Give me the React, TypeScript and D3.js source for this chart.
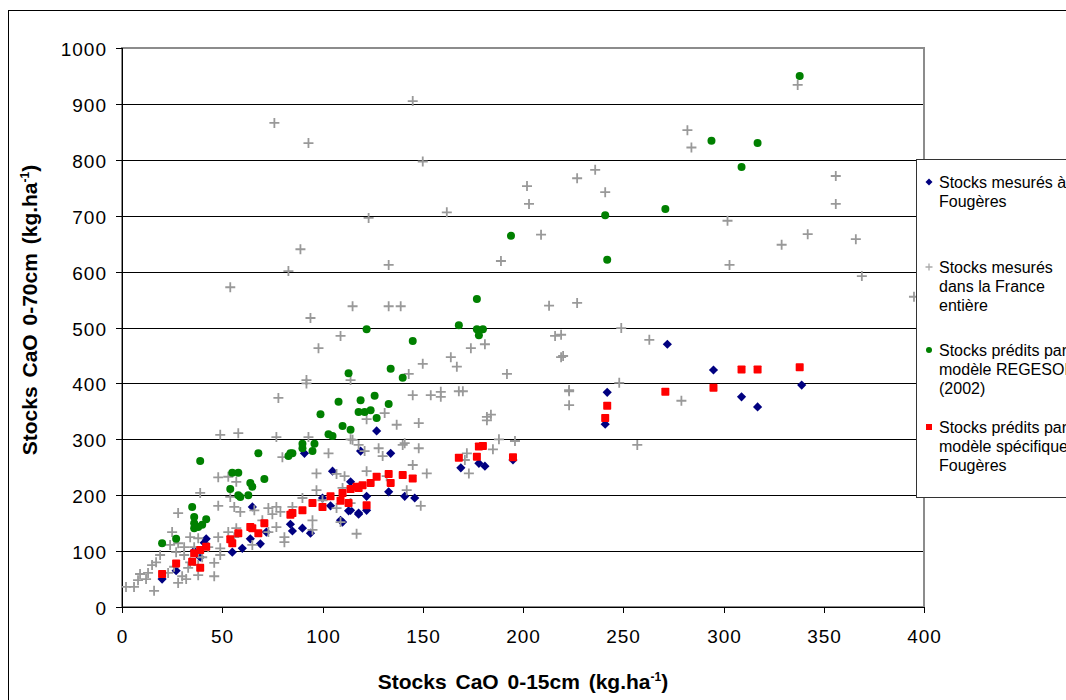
import React, { useEffect, useRef } from 'react';
import * as d3 from 'd3';

type Pt = [number, number];

// Stocks mesurés à Fougères
const fougeresMesures: Pt[] = [
  [20, 50], [27, 65], [36, 100], [39, 89], [41, 115], [42, 122], [55, 98], [60, 105], [64, 122], [65, 179],
  [69, 113], [72, 134], [84, 148], [85, 136], [90, 141], [91, 275], [94, 132], [100, 195], [104, 181],
  [105, 243], [109, 155], [110, 152], [113, 172], [114, 224], [114, 173], [118, 168], [118, 166], [119, 279],
  [122, 198], [122, 173], [127, 315], [133, 206], [134, 275], [141, 198], [146, 195], [169, 249], [178, 257],
  [181, 252], [195, 263], [241, 327], [242, 384], [272, 470], [295, 424], [309, 376], [317, 358], [339, 397],
];

// Stocks mesurés dans la France entière
const franceMesures: Pt[] = [
  [76, 866], [93, 830], [145, 905], [150, 797], [123, 696], [89, 640], [83, 601], [54, 572], [133, 612],
  [115, 538], [133, 538], [139, 538], [94, 517], [109, 485], [98, 463], [92, 406], [92, 400], [78, 374],
  [114, 406], [162, 706], [202, 753], [203, 721], [209, 666], [189, 619], [213, 539], [216, 485], [219, 447],
  [150, 435], [143, 417], [164, 447], [167, 430], [174, 463], [181, 470], [192, 417], [145, 379], [154, 379],
  [159, 385], [159, 376], [168, 386], [170, 386], [223, 386], [223, 361], [131, 347], [122, 336], [137, 326],
  [148, 329], [182, 340], [184, 344], [182, 334], [188, 300], [196, 297], [185, 282], [172, 275], [171, 263],
  [173, 239], [152, 239], [145, 254], [142, 209], [149, 181], [117, 131], [140, 290], [141, 293], [148, 284],
  [128, 284], [130, 270], [121, 279], [118, 290], [115, 299], [122, 243], [132, 234], [114, 186],
  [227, 767], [236, 782], [241, 742], [282, 853], [284, 822], [337, 934], [356, 771], [356, 721], [302, 691],
  [342, 667], [329, 648], [366, 658], [303, 612], [369, 592], [395, 555], [227, 544], [249, 499], [263, 478],
  [220, 449], [219, 487], [248, 401], [223, 388], [279, 369], [257, 290],
  [49, 308], [58, 311], [77, 304], [93, 304], [114, 300], [80, 268], [103, 275], [97, 239], [107, 238],
  [39, 204], [48, 232], [53, 233], [57, 224], [48, 181], [54, 197], [56, 179], [59, 170], [66, 173], [73, 177],
  [77, 179], [75, 166], [79, 170], [85, 179], [90, 195], [97, 209], [111, 234], [109, 152], [28, 168],
  [25, 134], [24, 111], [28, 114], [34, 125], [31, 107], [38, 123], [19, 93], [17, 80], [15, 75], [13, 61],
  [9, 59], [8, 48], [2, 36], [6, 36], [16, 29], [12, 50], [23, 61], [28, 43], [32, 50], [30, 55], [26, 72],
  [33, 70], [38, 57], [46, 55], [46, 79], [49, 105], [49, 93], [53, 134], [57, 141], [56, 125], [65, 111],
  [73, 134], [77, 143], [81, 125], [81, 116], [95, 138], [95, 155], [107, 177], [110, 213], [100, 191],
  [70, 155], [36, 107], [27, 98], [31, 93], [38, 96], [43, 107], [48, 125], [40, 89], [34, 80], [38, 75],
];

// Stocks prédits par le modèle REGESOL (2002)
const regesol: Pt[] = [
  [20, 114], [27, 122], [35, 179], [36, 161], [36, 150], [36, 141], [38, 143], [39, 261], [40, 147], [42, 157],
  [54, 211], [55, 240], [58, 240], [58, 200], [59, 197], [63, 200], [64, 222], [65, 215], [68, 275], [71, 229],
  [83, 270], [84, 275], [85, 275], [90, 284], [90, 292], [95, 279], [96, 292], [99, 345], [103, 309],
  [105, 306], [108, 367], [110, 324], [113, 418], [114, 317], [118, 349], [119, 370], [121, 349], [122, 497],
  [124, 352], [126, 378], [127, 338], [133, 363], [134, 426], [140, 410], [145, 476], [168, 504], [177, 551],
  [177, 497], [178, 486], [180, 497], [194, 664], [241, 701], [242, 621], [271, 712], [294, 834], [309, 787],
  [317, 830], [338, 950],
];

// Stocks prédits par le modèle spécifique à Fougères
const specifique: Pt[] = [
  [20, 59], [27, 78], [35, 81], [36, 96], [39, 70], [39, 102], [42, 108], [54, 121], [55, 114], [58, 132],
  [64, 143], [65, 141], [68, 132], [71, 150], [84, 165], [85, 168], [90, 173], [95, 186], [100, 179],
  [104, 198], [109, 190], [110, 204], [113, 186], [114, 211], [117, 215], [118, 213], [120, 218], [122, 182],
  [124, 222], [127, 233], [133, 238], [134, 222], [140, 236], [145, 230], [168, 267], [177, 269], [178, 287],
  [180, 288], [195, 268], [241, 338], [242, 360], [271, 385], [295, 392], [309, 425], [317, 425], [338, 429],
];

const xTicks = [0, 50, 100, 150, 200, 250, 300, 350, 400];
const yTicks = [0, 100, 200, 300, 400, 500, 600, 700, 800, 900, 1000];

const legendLabels: string[][] = [
  ['Stocks mesurés à', 'Fougères'],
  ['Stocks mesurés', 'dans la France', 'entière'],
  ['Stocks prédits par le', 'modèle REGESOL', '(2002)'],
  ['Stocks prédits par le', 'modèle spécifique à', 'Fougères'],
];

const FONT = "'Liberation Sans', Arial, sans-serif";

export default function App() {
  const svgRef = useRef<SVGSVGElement>(null);

  useEffect(() => {
    if (!svgRef.current) return;
    const svg = d3.select(svgRef.current);
    svg.selectAll('*').remove();

    const x = d3.scaleLinear().domain([0, 400]).range([122, 924]);
    const y = d3.scaleLinear().domain([0, 1000]).range([607, 48]);

    // chart frame
    svg.append('rect')
      .attr('x', 8.5).attr('y', 10.5).attr('width', 1200).attr('height', 800)
      .attr('fill', '#fff').attr('stroke', '#000').attr('stroke-width', 1);

    // gridlines
    svg.append('g')
      .selectAll('line')
      .data(yTicks.filter(t => t > 0 && t < 1000))
      .enter().append('line')
      .attr('x1', x(0)).attr('x2', x(400))
      .attr('y1', d => Math.round(y(d)) + 0.5).attr('y2', d => Math.round(y(d)) + 0.5)
      .attr('stroke', '#000').attr('stroke-width', 1);

    // plot area border (grey)
    svg.append('rect')
      .attr('x', x(0)).attr('y', y(1000)).attr('width', x(400) - x(0)).attr('height', y(0) - y(1000))
      .attr('fill', 'none').attr('stroke', '#8c8c8c').attr('stroke-width', 2);

    // axes lines
    svg.append('line')
      .attr('x1', x(0) + 0.5).attr('x2', x(0) + 0.5).attr('y1', y(1000)).attr('y2', y(0))
      .attr('stroke', '#000');
    svg.append('line')
      .attr('x1', x(0)).attr('x2', x(400)).attr('y1', Math.round(y(0)) + 0.5).attr('y2', Math.round(y(0)) + 0.5)
      .attr('stroke', '#000');

    // y ticks
    const yAx = svg.append('g');
    yTicks.forEach(t => {
      const py = Math.round(y(t)) + 0.5;
      yAx.append('line').attr('x1', x(0) - 6).attr('x2', x(0)).attr('y1', py).attr('y2', py).attr('stroke', '#000');
      yAx.append('text')
        .attr('x', 107).attr('y', py + 7)
        .attr('text-anchor', 'end')
        .style('font-family', FONT).style('font-size', '19px').style('letter-spacing', '1px')
        .text(t);
    });

    // x ticks
    const xAx = svg.append('g');
    xTicks.forEach(t => {
      const px = Math.round(x(t)) + 0.5;
      xAx.append('line').attr('x1', px).attr('x2', px).attr('y1', y(0)).attr('y2', y(0) + 6).attr('stroke', '#000');
      xAx.append('text')
        .attr('x', px).attr('y', 643)
        .attr('text-anchor', 'middle')
        .style('font-family', FONT).style('font-size', '19px').style('letter-spacing', '1px')
        .text(t);
    });

    // axis titles
    const xt = svg.append('text')
      .attr('x', 523).attr('y', 689)
      .attr('text-anchor', 'middle')
      .style('font-family', FONT).style('font-size', '21px').style('font-weight', 'bold')
      .style('word-spacing', '3px');
    xt.append('tspan').text('Stocks CaO 0-15cm (kg.ha');
    xt.append('tspan').attr('dy', -8).style('font-size', '12px').text('-1');
    xt.append('tspan').attr('dy', 8).text(')');

    const yt = svg.append('text')
      .attr('transform', 'translate(37,310) rotate(-90)')
      .attr('text-anchor', 'middle')
      .style('font-family', FONT).style('font-size', '21px').style('font-weight', 'bold')
      .style('word-spacing', '3px');
    yt.append('tspan').text('Stocks CaO 0-70cm (kg.ha');
    yt.append('tspan').attr('dy', -8).style('font-size', '12px').text('-1');
    yt.append('tspan').attr('dy', 8).text(')');

    // series
    const diamond = (s: number) => `M0,${-s}L${s},0L0,${s}L${-s},0Z`;
    const cross = (s: number) => `M${-s},0H${s}M0,${-s}V${s}`;

    svg.append('g').selectAll('path')
      .data(fougeresMesures).enter().append('path')
      .attr('transform', d => `translate(${x(d[0])},${y(d[1])})`)
      .attr('d', diamond(4.6)).attr('fill', '#000080');

    svg.append('g').selectAll('path')
      .data(franceMesures).enter().append('path')
      .attr('transform', d => `translate(${x(d[0])},${y(d[1])})`)
      .attr('d', cross(5)).attr('stroke', '#999999').attr('stroke-width', 1.8).attr('fill', 'none');

    svg.append('g').selectAll('circle')
      .data(regesol).enter().append('circle')
      .attr('cx', d => x(d[0])).attr('cy', d => y(d[1])).attr('r', 4)
      .attr('fill', '#008000');

    svg.append('g').selectAll('rect')
      .data(specifique).enter().append('rect')
      .attr('x', d => x(d[0]) - 4).attr('y', d => y(d[1]) - 4)
      .attr('width', 8).attr('height', 8).attr('rx', 0.8)
      .attr('fill', '#ff0000');

    // legend
    const lg = svg.append('g');
    lg.append('rect')
      .attr('x', 916.5).attr('y', 159.5).attr('width', 300).attr('height', 338)
      .attr('fill', '#fff').attr('stroke', '#333').attr('stroke-width', 1);

    const entryY = [182, 267, 350, 427];
    entryY.forEach((cy, i) => {
      const g = lg.append('g').attr('transform', `translate(929,${cy})`);
      if (i === 0) g.append('path').attr('d', diamond(3.5)).attr('fill', '#000080');
      if (i === 1) g.append('path').attr('d', cross(3.5)).attr('stroke', '#aaaaaa').attr('stroke-width', 1.3);
      if (i === 2) g.append('circle').attr('r', 3).attr('fill', '#008000');
      if (i === 3) g.append('rect').attr('x', -3).attr('y', -3).attr('width', 6).attr('height', 6).attr('fill', '#ff0000');
      legendLabels[i].forEach((line, j) => {
        lg.append('text')
          .attr('x', 939).attr('y', cy + 6 + j * 19)
          .style('font-family', FONT).style('font-size', '16px')
          .text(line);
      });
    });
  }, []);

  return (
    <div style={{ position: 'absolute', left: 0, top: 0, width: 1066, height: 700, overflow: 'hidden', background: '#fff' }}>
      <svg ref={svgRef} width={1066} height={700} viewBox="0 0 1066 700" />
    </div>
  );
}
